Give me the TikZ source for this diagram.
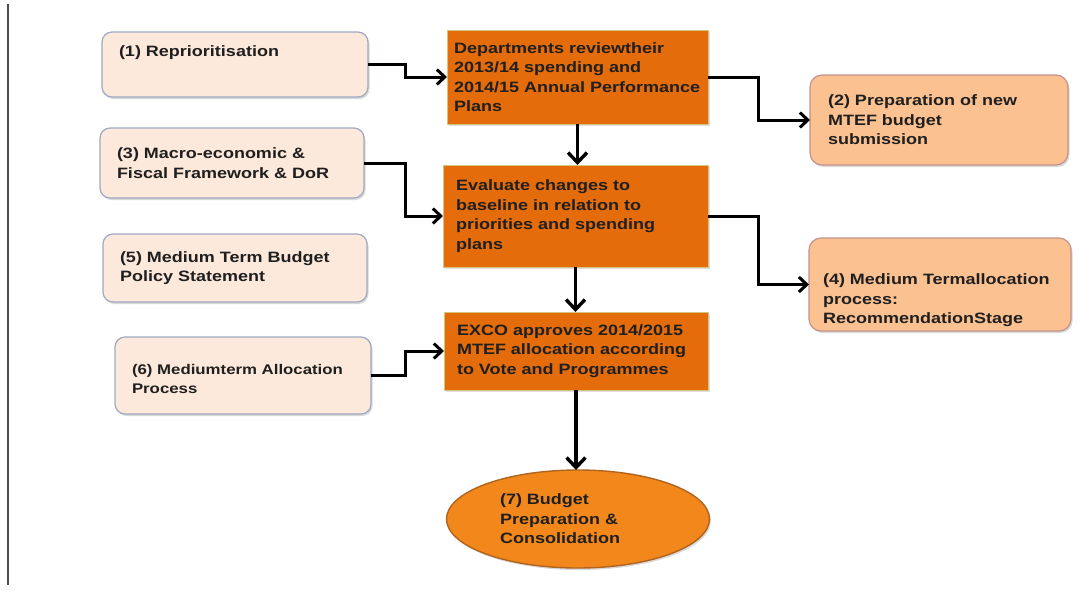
\documentclass[tikz,border=0pt]{standalone}
\usepackage{fontspec}
\setmainfont{Liberation Sans}[FakeStretch=1.2]
\usetikzlibrary{arrows.meta,shapes.geometric,shadows}

\definecolor{peach}{HTML}{FCE9DB}
\definecolor{peachline}{HTML}{9DAAC2}
\definecolor{apricot}{HTML}{FBC190}
\definecolor{apricotline}{HTML}{C4928A}
\definecolor{deeporange}{HTML}{E46C0A}
\definecolor{oliveline}{HTML}{D6C47E}
\definecolor{ellorange}{HTML}{F2871C}
\definecolor{ellline}{HTML}{B0641E}

\begin{document}
\begin{tikzpicture}[
   x=1pt, y=-1pt,   % <-- work in pixels of the page, y going down
   every node/.append style={font=\fontsize{15}{19.5}\selectfont\bfseries,
      text=black!88, align=left, outer sep=0pt},
   inbox/.style={draw=peachline, line width=1.2pt, fill=peach,
      rounded corners=10pt, inner xsep=17pt,
      drop shadow={shadow xshift=1.5pt, shadow yshift=-2pt, opacity=.3}},
   outbox/.style={draw=apricotline, line width=1.2pt, fill=apricot,
      rounded corners=12pt, inner xsep=18pt,
      drop shadow={shadow xshift=1.5pt, shadow yshift=-2pt, opacity=.3}},
   stepbox/.style={draw=oliveline, line width=1pt, fill=deeporange,
      inner xsep=13pt,
      drop shadow={shadow xshift=1.5pt, shadow yshift=-2pt, opacity=.25}},
   flow/.style={-{Straight Barb[length=8pt,width=15pt,line width=3pt]}, line width=3pt},
   down/.style={-{Straight Barb[length=10pt,width=19pt,line width=3.4pt]}, line width=3.4pt}
]
\useasboundingbox (0,0) rectangle (1091,590);
\draw[line width=1.4pt, black!70] (8,4) -- (8,585);

% inputs on the left
\node[inbox, text width=232pt, minimum height=65pt, text depth=26pt] (repri) at (235,64.5)
   {(1) Reprioritisation};
\node[inbox, text width=230pt, minimum height=70pt] (macro) at (232,163)
   {(3) Macro-economic \&\\Fiscal Framework \& DoR};
\node[inbox, text width=230pt, minimum height=68pt] (mtbps) at (235,268)
   {(5) Medium Term Budget\\Policy Statement};
\node[inbox, text width=222pt, minimum height=77pt, text depth=12pt,
      font=\fontsize{14}{19}\selectfont\bfseries] (alloc) at (243,375.5)
   {(6) Mediumterm Allocation\\Process};

% main steps
\node[stepbox, inner xsep=7pt, text width=247pt, minimum height=94pt] (dept) at (577.5,77)
   {Departments reviewtheir\\2013/14 spending and\\2014/15 Annual Performance\\Plans};
\node[stepbox, text width=239pt, minimum height=102pt] (eval) at (575.5,216)
   {Evaluate changes to\\baseline in relation to\\priorities and spending\\plans};
\node[stepbox, text width=238pt, minimum height=78pt] (exco) at (576,351)
   {EXCO approves 2014/2015\\MTEF allocation according\\to Vote and Programmes};
\node[ellipse, draw=ellline, line width=1.4pt, fill=ellorange,
      minimum width=263pt, minimum height=98pt, text width=156pt,
      drop shadow={shadow xshift=1.5pt, shadow yshift=-2pt, opacity=.3}] (budget) at (578,519)
   {(7) Budget\\Preparation \&\\Consolidation};

% outputs on the right
\node[outbox, text width=222pt, minimum height=90pt] (mtef) at (939,120)
   {(2) Preparation of new\\MTEF budget\\submission};
\node[outbox, inner xsep=14pt, text width=234pt, minimum height=93pt, text depth=10pt] (recom) at (940,284.5)
   {(4) Medium Termallocation\\process:\\RecommendationStage};

% connectors
\draw[flow] (repri.east) -- ++(37,0) |- (dept.west);
\draw[flow] (macro.east) -- ++(41,0) |- (eval.west);
\draw[flow] (alloc.east) -- ++(34,0) |- (exco.west);
\draw[flow] (dept.east) -- ++(50,0) |- (mtef.west);
\draw[flow] (eval.east) -- ++(50,0) |- (recom.west);
\draw[down] (dept.south) -- (dept.south |- eval.north);
\draw[down] (eval.south) -- (eval.south |- exco.north);
\draw[down] (exco.south) -- (exco.south |- budget.north);
\end{tikzpicture}
\end{document}
